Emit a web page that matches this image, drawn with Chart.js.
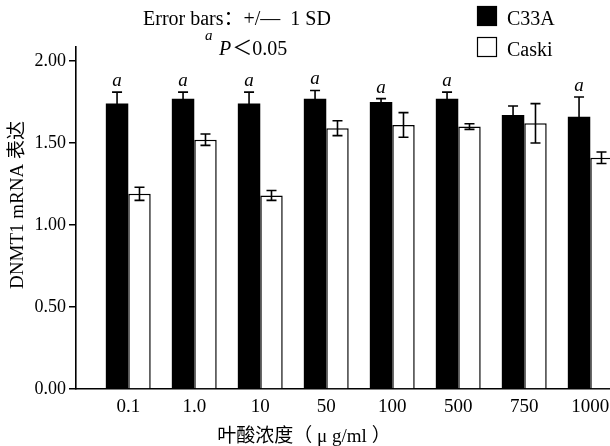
<!DOCTYPE html>
<html>
<head>
<meta charset="utf-8">
<script src="https://cdn.jsdelivr.net/npm/chart.js@4/dist/chart.umd.min.js"></script>
<style>
  html, body { margin: 0; padding: 0; background: #fff; overflow: hidden; }
  #c { display: block; }
</style>
</head>
<body>
<canvas id="c" width="610" height="446"></canvas>
<script>
// ---- data ----
const categories = ['0.1', '1.0', '10', '50', '100', '500', '750', '1000'];
const c33a   = [1.74, 1.77, 1.74, 1.77, 1.75, 1.77, 1.67, 1.66];
const c33aSD = [0.07, 0.04, 0.07, 0.05, 0.02, 0.04, 0.055, 0.12];
const caski   = [1.19, 1.52, 1.18, 1.59, 1.61, 1.60, 1.62, 1.41];
const caskiSD = [0.04, 0.035, 0.03, 0.045, 0.075, 0.017, 0.12, 0.035];
const sigC33A = [true, true, true, true, true, true, false, true];
const yTicks = [0, 0.5, 1.0, 1.5, 2.0];
const seriesNames = ['C33A', 'Caski'];
const xTitle = '叶酸浓度（ μ g/ml ）';
const yTitle = 'DNMT1 mRNA 表达';

const SERIF = "'Liberation Serif', 'Times New Roman', 'Noto Sans CJK SC', serif";

const toPoints = (arr) => arr.map((v, i) => ({ x: i, y: v }));

const errorBarPlugin = {
  id: 'errorBars',
  afterDatasetsDraw(chart) {
    const ctx = chart.ctx;
    const y = chart.scales.y;
    const sds = [c33aSD, caskiSD];
    ctx.save();
    ctx.strokeStyle = '#000';
    ctx.lineWidth = 1.6;
    chart.data.datasets.forEach((ds, d) => {
      const meta = chart.getDatasetMeta(d);
      meta.data.forEach((bar, i) => {
        const v = ds.data[i].y;
        const sd = sds[d][i];
        const x = bar.x;
        const yt = y.getPixelForValue(v + sd);
        const yb = y.getPixelForValue(v - sd);
        const cap = 5;
        ctx.beginPath();
        ctx.moveTo(x, yt); ctx.lineTo(x, yb);
        ctx.moveTo(x - cap, yt); ctx.lineTo(x + cap, yt);
        ctx.moveTo(x - cap, yb); ctx.lineTo(x + cap, yb);
        ctx.stroke();
        if (d === 0 && sigC33A[i]) {
          ctx.fillStyle = '#000';
          ctx.font = "italic 19px " + SERIF;
          ctx.textAlign = 'center';
          ctx.textBaseline = 'alphabetic';
          ctx.fillText('a', x, yt - 6);
        }
      });
    });
    ctx.restore();
  }
};

const annotationPlugin = {
  id: 'annotations',
  afterDraw(chart) {
    const ctx = chart.ctx;
    ctx.save();
    ctx.fillStyle = '#000';
    ctx.textBaseline = 'alphabetic';
    ctx.textAlign = 'left';
    // header notes
    ctx.font = "20px " + SERIF;
    ctx.fillText('Error bars：+/—  1 SD', 143, 25);
    ctx.font = "italic 15px " + SERIF;
    ctx.fillText('a', 205, 40);
    ctx.font = "italic 20px " + SERIF;
    ctx.fillText('P', 219, 55);
    const pw = ctx.measureText('P').width;
    ctx.font = "20px " + SERIF;
    ctx.fillText('＜0.05', 219 + pw + 1, 55);

    // legend
    const boxes = [{ y: 6 }, { y: 37 }];
    chart.data.datasets.forEach((ds, d) => {
      const b = boxes[d];
      ctx.fillStyle = ds.backgroundColor;
      ctx.fillRect(477, b.y, 20, 20);
      ctx.strokeStyle = '#000';
      ctx.lineWidth = 1.2;
      ctx.strokeRect(477.5, b.y + 0.5, 19, 19);
      ctx.fillStyle = '#000';
      ctx.font = "20px " + SERIF;
      ctx.fillText(ds.label, 507, b.y + 19);
    });

    // axis titles
    ctx.font = "19px " + SERIF;
    ctx.textAlign = 'center';
    ctx.textBaseline = 'middle';
    ctx.fillText(xTitle, 304, 437);
    ctx.save();
    ctx.translate(18, 205);
    ctx.rotate(-Math.PI / 2);
    ctx.fillText(yTitle, 0, 0);
    ctx.restore();
    ctx.restore();
  }
};

new Chart(document.getElementById('c'), {
  type: 'bar',
  data: {
    datasets: [
      { label: seriesNames[0], data: toPoints(c33a), backgroundColor: '#000', borderColor: '#000', borderWidth: 0 },
      { label: seriesNames[1], data: toPoints(caski), backgroundColor: '#fff', borderColor: '#000', borderWidth: 1.5 }
    ]
  },
  options: {
    responsive: false,
    animation: false,
    devicePixelRatio: 1,
    layout: { padding: { top: 47, left: 0, right: 0, bottom: 0 } },
    plugins: { legend: { display: false }, title: { display: false }, tooltip: { enabled: false } },
    datasets: { bar: { categoryPercentage: 0.68, barPercentage: 1.0 } },
    scales: {
      x: {
        type: 'linear',
        min: -0.792,
        max: 7.299,
        offset: false,
        afterBuildTicks: (s) => { s.ticks = categories.map((c, i) => ({ value: i })); },
        afterFit: (s) => { s.height = 57; s.paddingRight = 0; s.paddingLeft = 0; },
        grid: { display: false, drawTicks: false },
        border: { display: true, color: '#000', width: 1.6 },
        ticks: {
          autoSkip: false,
          maxRotation: 0,
          padding: 7,
          color: '#000',
          font: { family: SERIF, size: 19 },
          callback: (v) => categories[v]
        }
      },
      y: {
        min: 0,
        max: 2.085,
        afterBuildTicks: (s) => { s.ticks = yTicks.map((v) => ({ value: v })); },
        afterFit: (s) => { s.width = 76; s.paddingTop = 0; s.paddingBottom = 0; },
        grid: { display: true, drawOnChartArea: false, drawTicks: true, tickLength: 7, color: '#000', lineWidth: 1.5 },
        border: { display: true, color: '#000', width: 1.6 },
        ticks: {
          padding: 3,
          color: '#000',
          font: { family: SERIF, size: 18 },
          callback: (v) => Number(v).toFixed(2)
        }
      }
    }
  },
  plugins: [errorBarPlugin, annotationPlugin]
});
</script>
</body>
</html>
